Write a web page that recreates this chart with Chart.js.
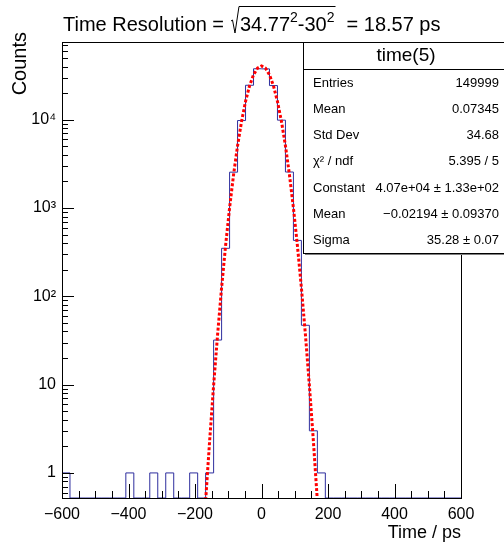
<!DOCTYPE html>
<html>
<head>
<meta charset="utf-8">
<script src="https://cdn.jsdelivr.net/npm/chart.js@4.4.0/dist/chart.umd.min.js"></script>
<style>
  html, body { margin: 0; padding: 0; background: #fff; }
</style>
</head>
<body>
<canvas id="chart-time" width="504" height="542"></canvas>
<script>
// histogram: 50 bins of 24 ps between -600 and 600
const binEdges = [-600, -576, -552, -528, -504, -480, -456, -432, -408, -384, -360, -336, -312, -288, -264, -240, -216, -192, -168, -144, -120, -96, -72, -48, -24, 0, 24, 48, 72, 96, 120, 144, 168, 192, 216, 240, 264, 288, 312, 336, 360, 384, 408, 432, 456, 480, 504, 528, 552, 576, 600];
const binCounts = [1, 0, 0, 0, 0, 0, 0, 0, 1, 0, 0, 1, 0, 1, 0, 0, 1, 0, 1, 32, 350, 2550, 9800, 24600, 37800, 37700, 24400, 9900, 2560, 430, 47, 3, 1, 0, 0, 0, 0, 0, 0, 0, 0, 0, 0, 0, 0, 0, 0, 0, 0, 0];

// gaussian fit curve
const fitX = [-180, -168, -156, -144, -132, -120, -108, -96, -84, -72, -60, -48, -36, -24, -12, 0, 12, 24, 36, 48, 60, 72, 84, 96, 108, 120, 132, 144, 156, 168, 180];
const fitY = [0.0906, 0.485, 2.31, 9.82, 37.1, 125.2, 375.7, 1004, 2391, 5073, 9584, 16130, 24180, 32290, 38410, 40700, 38410, 32290, 24180, 16130, 9584, 5073, 2391, 1004, 375.7, 125.2, 37.1, 9.82, 2.31, 0.485, 0.0906];

const xTicks = [-600, -400, -200, 0, 200, 400, 600];
const xTickLabels = ["\u2212600", "\u2212400", "\u2212200", "0", "200", "400", "600"];
const yTicks = [1, 10, 100, 1000, 10000];
const yTickLabels = ["1", "10", "10\u00b2", "10\u00b3", "10\u2074"];

const statsTitle = "time(5)";
const statsLabels = ["Entries", "Mean", "Std Dev", "\u03c7\u00b2 / ndf", "Constant", "Mean", "Sigma"];
const statsValues = ["149999", "0.07345", "34.68", "5.395 / 5", "4.07e+04 \u00b1 1.33e+02", "\u22120.02194 \u00b1 0.09370", "35.28 \u00b1 0.07"];

const yMin = 0.52;
const yMax = 76000;
const font = "'Liberation Sans', Arial, Helvetica, sans-serif";

// step outline, empty bins sit on the bottom of the frame
const histPoints = [{ x: binEdges[0], y: yMin }];
binCounts.forEach((c, i) => {
  histPoints.push({ x: binEdges[i], y: Math.max(c, yMin) });
});
histPoints.push({ x: binEdges[binEdges.length - 1], y: yMin });

const fitPoints = fitX.map((x, i) => ({ x: x, y: fitY[i] }));

const drawTitle = (ctx) => {
  const big = "20px " + font;
  const small = "14px " + font;
  const base = 31;
  let x = 63;
  ctx.fillStyle = "#000";
  ctx.textAlign = "left";
  ctx.textBaseline = "alphabetic";
  ctx.font = big;
  ctx.fillText("Time Resolution =", x, base);
  x += ctx.measureText("Time Resolution =").width + 7;
  // radical sign
  const rx = x;
  x += 9;
  const parts = [
    ["34.77", big, 0],
    ["2", small, -9],
    ["-30", big, 0],
    ["2", small, -9],
  ];
  parts.forEach(([t, f, dy]) => {
    ctx.font = f;
    ctx.fillText(t, x, base + dy);
    x += ctx.measureText(t).width;
  });
  ctx.beginPath();
  ctx.lineWidth = 1;
  ctx.strokeStyle = "#000";
  ctx.moveTo(rx, base - 10);
  ctx.lineTo(rx + 1.5, base - 11);
  ctx.lineTo(rx + 4, base + 2);
  ctx.lineTo(rx + 8, base - 24.5);
  ctx.lineTo(x + 1, base - 24.5);
  ctx.stroke();
  ctx.font = big;
  ctx.fillText("= 18.57 ps", x + 12, base);
};

const drawYTitle = (ctx) => {
  ctx.save();
  ctx.translate(20, 32);
  ctx.rotate(-Math.PI / 2);
  ctx.fillStyle = "#000";
  ctx.font = "20px " + font;
  ctx.textAlign = "right";
  ctx.textBaseline = "middle";
  ctx.fillText("Counts", 0, 0);
  ctx.restore();
};

const drawStats = (ctx) => {
  const bx = 303, by = 42, bw = 201, bh = 211;
  ctx.fillStyle = "#fff";
  ctx.fillRect(bx, by, bw, bh);
  ctx.fillStyle = "#7f7f7f";
  ctx.fillRect(bx + 2, by + bh, bw, 2);
  ctx.strokeStyle = "#000";
  ctx.lineWidth = 1;
  ctx.strokeRect(bx + 0.5, by + 0.5, bw, bh);
  ctx.beginPath();
  ctx.moveTo(bx, 69.5);
  ctx.lineTo(bx + bw, 69.5);
  ctx.stroke();
  ctx.fillStyle = "#000";
  ctx.textBaseline = "middle";
  ctx.textAlign = "center";
  ctx.font = "19px " + font;
  ctx.fillText(statsTitle, 406, 56);
  ctx.font = "13px " + font;
  statsLabels.forEach((label, i) => {
    const y = 83 + i * 26.3;
    ctx.textAlign = "left";
    ctx.fillText(label, 313, y);
    ctx.textAlign = "right";
    ctx.fillText(statsValues[i], 499, y);
  });
};

const rootDecor = {
  id: "rootDecor",
  afterDraw(chart) {
    const { ctx, chartArea: a, scales } = chart;
    const xs = scales.x;
    const ys = scales.y;
    ctx.save();
    ctx.strokeStyle = "#000";
    ctx.lineWidth = 1;
    ctx.beginPath();
    // x ticks, pointing into the frame
    for (let v = -600; v <= 600; v += 50) {
      const px = Math.round(xs.getPixelForValue(v)) + 0.5;
      const len = xTicks.includes(v) ? 14 : 7;
      ctx.moveTo(px, a.bottom);
      ctx.lineTo(px, a.bottom - len);
    }
    // y ticks, decades and 2..9
    for (let d = -1; d <= 4; d++) {
      for (let m = 1; m <= 9; m++) {
        const v = m * Math.pow(10, d);
        if (v < yMin || v > yMax) continue;
        const py = Math.round(ys.getPixelForValue(v)) + 0.5;
        const len = m === 1 ? 12 : 6;
        ctx.moveTo(a.left, py);
        ctx.lineTo(a.left + len, py);
      }
    }
    ctx.stroke();
    ctx.strokeRect(Math.round(a.left) + 0.5, Math.round(a.top) + 0.5, Math.round(a.right - a.left), Math.round(a.bottom - a.top));
    drawStats(ctx);
    drawTitle(ctx);
    drawYTitle(ctx);
    ctx.restore();
  },
};

const timeChart = new Chart(document.querySelector("#chart-time"), {
  type: "line",
  data: {
    datasets: [
      {
        label: "time(5)",
        data: histPoints,
        borderColor: "#2e2e9e",
        borderWidth: 1,
        stepped: true,
        pointRadius: 0,
        fill: false,
        order: 2,
      },
      {
        label: "gaus",
        data: fitPoints,
        borderColor: "#ff0000",
        borderWidth: 3,
        borderDash: [3, 2],
        pointRadius: 0,
        fill: false,
        order: 1,
      },
    ],
  },
  options: {
    responsive: false,
    animation: false,
    layout: { padding: { top: 42, right: 43, left: 0, bottom: 0 } },
    plugins: {
      legend: { display: false },
      tooltip: { enabled: false },
    },
    scales: {
      x: {
        type: "linear",
        min: -600,
        max: 600,
        afterBuildTicks: (scale) => {
          scale.ticks = xTicks.map((v) => ({ value: v }));
        },
        afterFit: (scale) => {
          scale.height = 44;
        },
        grid: { display: false, drawTicks: false },
        border: { display: false },
        ticks: {
          color: "#000",
          padding: 7,
          maxRotation: 0,
          font: { family: font, size: 16 },
          callback: (value) => xTickLabels[xTicks.indexOf(value)],
        },
        title: {
          display: true,
          text: "Time / ps",
          align: "end",
          color: "#000",
          padding: { top: 0, bottom: 0 },
          font: { family: font, size: 18, lineHeight: 1 },
        },
      },
      y: {
        type: "logarithmic",
        min: yMin,
        max: yMax,
        afterBuildTicks: (scale) => {
          scale.ticks = yTicks.map((v) => ({ value: v }));
        },
        afterFit: (scale) => {
          scale.width = 62;
        },
        grid: { display: false, drawTicks: false },
        border: { display: false },
        ticks: {
          color: "#000",
          padding: 6,
          font: { family: font, size: 16 },
          callback: (value) => yTickLabels[yTicks.indexOf(value)],
        },
      },
    },
  },
  plugins: [rootDecor],
});
</script>
</body>
</html>
